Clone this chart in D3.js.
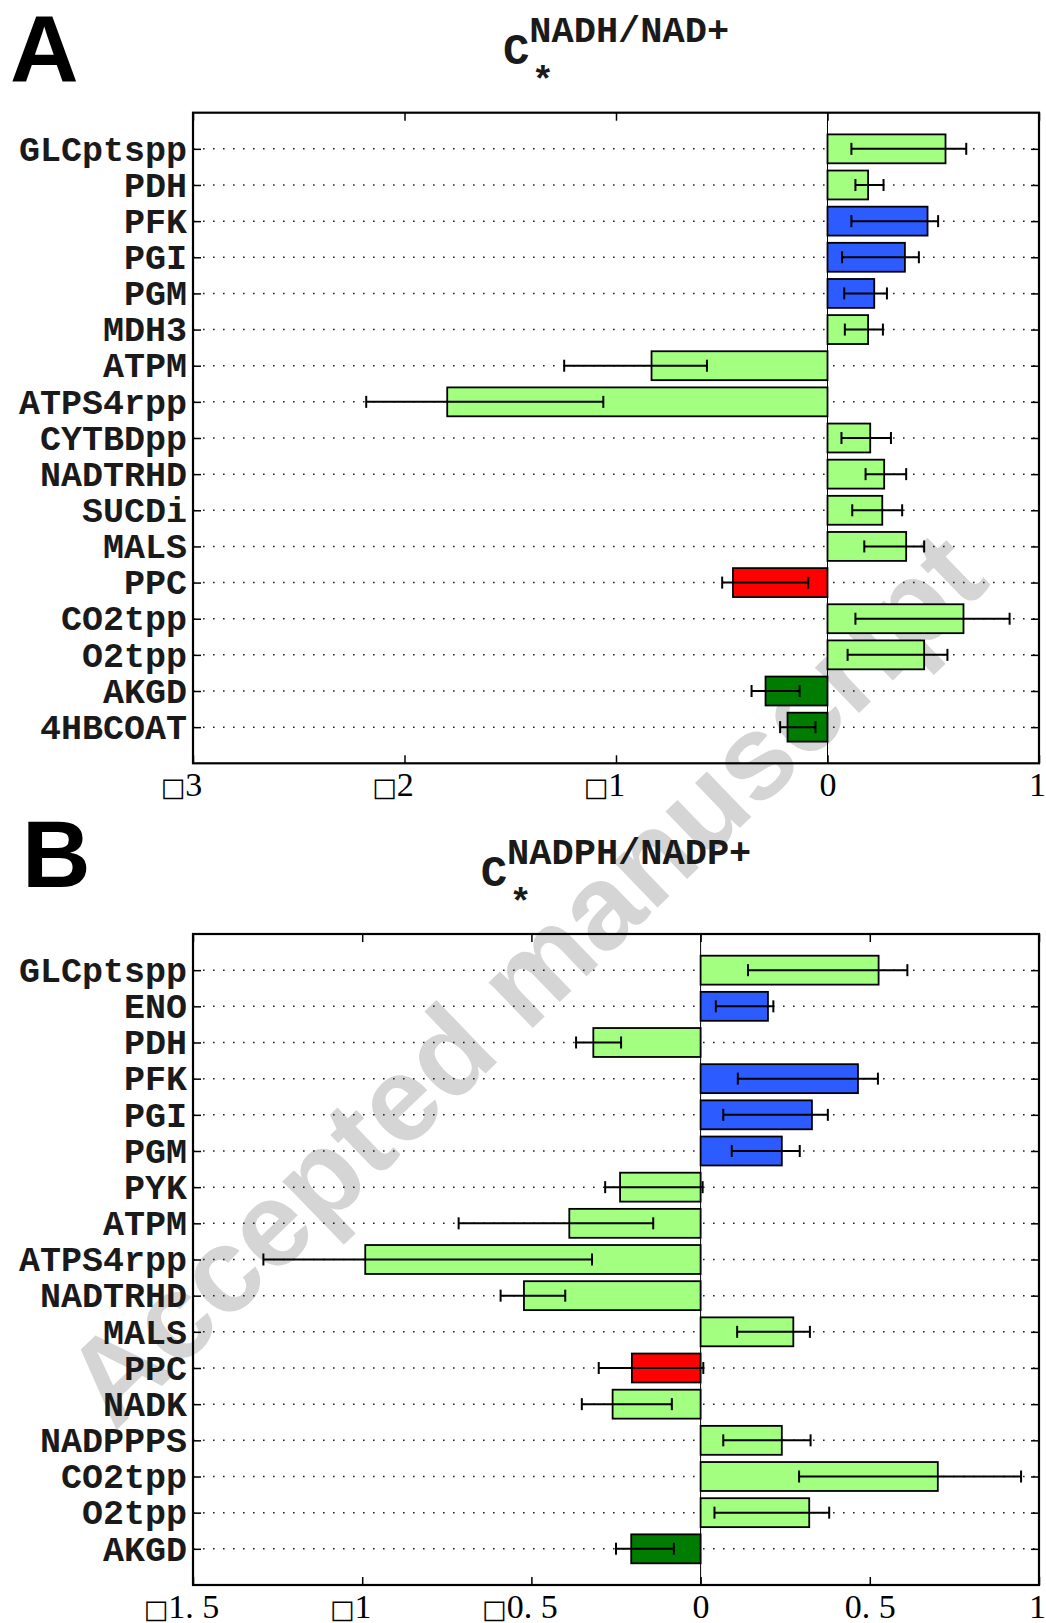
<!DOCTYPE html>
<html>
<head>
<meta charset="utf-8">
<script src="https://cdn.jsdelivr.net/npm/d3@7"></script>
<style>
  body { margin: 0; background: #fff; }
</style>
</head>
<body>
<script>
// panel A : C*^(NADH/NAD+)
var namesA = ['GLCptspp', 'PDH', 'PFK', 'PGI', 'PGM', 'MDH3', 'ATPM', 'ATPS4rpp', 'CYTBDpp',
  'NADTRHD', 'SUCDi', 'MALS', 'PPC', 'CO2tpp', 'O2tpp', 'AKGD', '4HBCOAT']
var valsA = [0.558, 0.192, 0.473, 0.366, 0.221, 0.192, -0.832, -1.798, 0.202,
  0.268, 0.259, 0.372, -0.447, 0.643, 0.457, -0.293, -0.189]
var loA = [0.113, 0.132, 0.113, 0.069, 0.079, 0.082, -1.245, -2.181, 0.066,
  0.180, 0.117, 0.174, -0.498, 0.132, 0.095, -0.359, -0.224]
var hiA = [0.656, 0.265, 0.523, 0.432, 0.281, 0.262, -0.570, -1.060, 0.300,
  0.372, 0.353, 0.457, -0.091, 0.861, 0.567, -0.132, -0.057]
var colA = ['l', 'l', 'b', 'b', 'b', 'l', 'l', 'l', 'l', 'l', 'l', 'l', 'r', 'l', 'l', 'd', 'd']
var ticksA = [-3, -2, -1, 0, 1]
var tickLabelsA = ['\u25A13', '\u25A12', '\u25A11', '0', '1']

// panel B : C*^(NADPH/NADP+)
var namesB = ['GLCptspp', 'ENO', 'PDH', 'PFK', 'PGI', 'PGM', 'PYK', 'ATPM', 'ATPS4rpp',
  'NADTRHD', 'MALS', 'PPC', 'NADK', 'NADPPPS', 'CO2tpp', 'O2tpp', 'AKGD']
var valsB = [0.526, 0.199, -0.317, 0.465, 0.329, 0.240, -0.238, -0.388, -0.991,
  -0.522, 0.274, -0.203, -0.260, 0.240, 0.701, 0.321, -0.205]
var loB = [0.140, 0.045, -0.368, 0.110, 0.067, 0.092, -0.282, -0.715, -1.292,
  -0.591, 0.108, -0.301, -0.351, 0.067, 0.291, 0.041, -0.250]
var hiB = [0.611, 0.215, -0.235, 0.524, 0.376, 0.293, 0.006, -0.140, -0.321,
  -0.400, 0.323, 0.008, -0.085, 0.325, 0.947, 0.380, -0.079]
var colB = ['l', 'b', 'l', 'b', 'b', 'b', 'l', 'l', 'l', 'l', 'l', 'r', 'l', 'l', 'l', 'l', 'd']
var ticksB = [-1.5, -1, -0.5, 0, 0.5, 1]
var tickLabelsB = ['\u25A11. 5', '\u25A11', '\u25A10. 5', '0', '0. 5', '1']

var palette = { l: '#a2ff80', b: '#2c5cff', r: '#ff0000', d: '#007d00' }

var W = 1046, H = 1623
var left = 193, right = 1039
var mono = '"Liberation Mono", "Courier New", monospace'
var serif = '"Liberation Serif", "Times New Roman", serif'
var sans = '"Liberation Sans", Arial, sans-serif'

var svg = d3.select('body').append('svg')
  .attr('width', W)
  .attr('height', H)

// watermark sits under everything
svg.append('text')
  .attr('transform', 'translate(524,978) rotate(-44)')
  .attr('text-anchor', 'middle')
  .attr('dominant-baseline', 'central')
  .attr('font-family', sans)
  .attr('font-weight', 'bold')
  .attr('font-size', 120)
  .attr('fill', '#d5d5d5')
  .text('Accepted manuscript')

function drawPanel(p) {
  var x = d3.scaleLinear().domain(p.domain).range([left, right])
  var y = d3.scaleLinear().domain([0, p.names.length + 1]).range([p.top, p.bottom])
  var rows = p.names.map(function(d, i) { return i + 1 })
  var bh = y(0.8) - y(0)
  var g = svg.append('g')

  // dotted grid at each category
  g.selectAll('line.grid').data(rows).enter().append('line')
    .attr('class', 'grid')
    .attr('x1', left).attr('x2', right)
    .attr('y1', function(d) { return y(d) })
    .attr('y2', function(d) { return y(d) })
    .attr('stroke', '#222')
    .attr('stroke-width', 1.5)
    .attr('stroke-dasharray', '1.6,8.4')

  // baseline at 0
  g.append('line')
    .attr('x1', x(0)).attr('x2', x(0))
    .attr('y1', p.top).attr('y2', p.bottom)
    .attr('stroke', '#000')
    .attr('stroke-width', 1)

  g.selectAll('rect.bar').data(p.vals).enter().append('rect')
    .attr('class', 'bar')
    .attr('x', function(d) { return x(Math.min(0, d)) })
    .attr('width', function(d) { return Math.abs(x(d) - x(0)) })
    .attr('y', function(d, i) { return y(i + 1) - bh / 2 })
    .attr('height', bh)
    .attr('fill', function(d, i) { return palette[p.cols[i]] })
    .attr('stroke', '#000')
    .attr('stroke-width', 1.8)

  // error bars
  var err = g.selectAll('g.err').data(p.vals).enter().append('g')
    .attr('class', 'err')
    .attr('stroke', '#000')
    .attr('stroke-width', 2)
  err.append('line')
    .attr('x1', function(d, i) { return x(p.lo[i]) })
    .attr('x2', function(d, i) { return x(p.hi[i]) })
    .attr('y1', function(d, i) { return y(i + 1) })
    .attr('y2', function(d, i) { return y(i + 1) })
  err.append('line')
    .attr('x1', function(d, i) { return x(p.lo[i]) })
    .attr('x2', function(d, i) { return x(p.lo[i]) })
    .attr('y1', function(d, i) { return y(i + 1) - 6 })
    .attr('y2', function(d, i) { return y(i + 1) + 6 })
  err.append('line')
    .attr('x1', function(d, i) { return x(p.hi[i]) })
    .attr('x2', function(d, i) { return x(p.hi[i]) })
    .attr('y1', function(d, i) { return y(i + 1) - 6 })
    .attr('y2', function(d, i) { return y(i + 1) + 6 })

  // axes, ticks pointing inward
  var ax = g.append('g')
    .attr('transform', 'translate(0,' + p.bottom + ')')
    .call(d3.axisBottom(x).tickValues(p.ticks).tickSize(-8).tickPadding(9)
      .tickFormat(function(d, i) { return p.tickLabels[i] }))
  ax.selectAll('text')
    .attr('font-family', serif)
    .attr('font-size', 34)
    .attr('fill', '#000')
    .attr('dx', function(d, i) {
      if (p.tickLabels[i].charAt(0) === '\u25A1') return -12
      return i === p.ticks.length - 1 ? -2 : 0
    })
    .each(function(d, i) {
      var s = p.tickLabels[i]
      if (s.charAt(0) !== '\u25A1') return
      var t = d3.select(this).text('')
      t.append('tspan').attr('font-size', 26).attr('font-family', '"DejaVu Sans", sans-serif').text(s.charAt(0))
      t.append('tspan').text(s.slice(1))
    })

  g.append('g')
    .attr('transform', 'translate(0,' + p.top + ')')
    .call(d3.axisTop(x).tickValues(p.ticks).tickSize(-8).tickFormat(''))

  var ay = g.append('g')
    .attr('transform', 'translate(' + left + ',0)')
    .call(d3.axisLeft(y).tickValues(rows).tickSize(-8).tickPadding(6)
      .tickFormat(function(d) { return p.names[d - 1] }))
  ay.selectAll('text')
    .attr('font-family', mono)
    .attr('font-weight', 'bold')
    .attr('font-size', 35)
    .attr('fill', '#1a1a1a')

  g.append('g')
    .attr('transform', 'translate(' + right + ',0)')
    .call(d3.axisRight(y).tickValues(rows).tickSize(-8).tickFormat(''))

  g.selectAll('.domain').remove()
  g.selectAll('.tick line').attr('stroke', '#000').attr('stroke-width', 1.5)

  // box
  g.append('rect')
    .attr('x', left).attr('y', p.top)
    .attr('width', right - left).attr('height', p.bottom - p.top)
    .attr('fill', 'none')
    .attr('stroke', '#000')
    .attr('stroke-width', 2.2)

  // title: C with superscript and * subscript
  var t = svg.append('text')
    .attr('x', (left + right) / 2)
    .attr('y', p.titleY)
    .attr('text-anchor', 'middle')
    .attr('font-family', mono)
    .attr('font-weight', 'bold')
    .attr('font-size', 37)
    .attr('fill', '#1a1a1a')
  t.append('tspan').attr('font-size', 44).text('C')
  t.append('tspan').attr('dy', -22).text(p.sup)
  var bb = t.node().getBBox()
  svg.append('text')
    .attr('x', bb.x + 40)
    .attr('y', p.titleY + 28)
    .attr('text-anchor', 'middle')
    .attr('font-family', mono)
    .attr('font-weight', 'bold')
    .attr('font-size', 37)
    .attr('fill', '#1a1a1a')
    .text('*')

  svg.append('text')
    .attr('x', p.letterX)
    .attr('y', p.letterY)
    .attr('font-family', sans)
    .attr('font-weight', 'bold')
    .attr('font-size', 95)
    .attr('fill', '#000')
    .text(p.letter)
}

drawPanel({
  names: namesA, vals: valsA, lo: loA, hi: hiA, cols: colA,
  domain: [-3, 1], ticks: ticksA, tickLabels: tickLabelsA,
  top: 112.7, bottom: 763.3, titleY: 64, sup: 'NADH/NAD+',
  letter: 'A', letterX: 10, letterY: 82
})

drawPanel({
  names: namesB, vals: valsB, lo: loB, hi: hiB, cols: colB,
  domain: [-1.5, 1], ticks: ticksB, tickLabels: tickLabelsB,
  top: 934, bottom: 1585, titleY: 886, sup: 'NADPH/NADP+',
  letter: 'B', letterX: 22, letterY: 887
})
</script>
</body>
</html>
